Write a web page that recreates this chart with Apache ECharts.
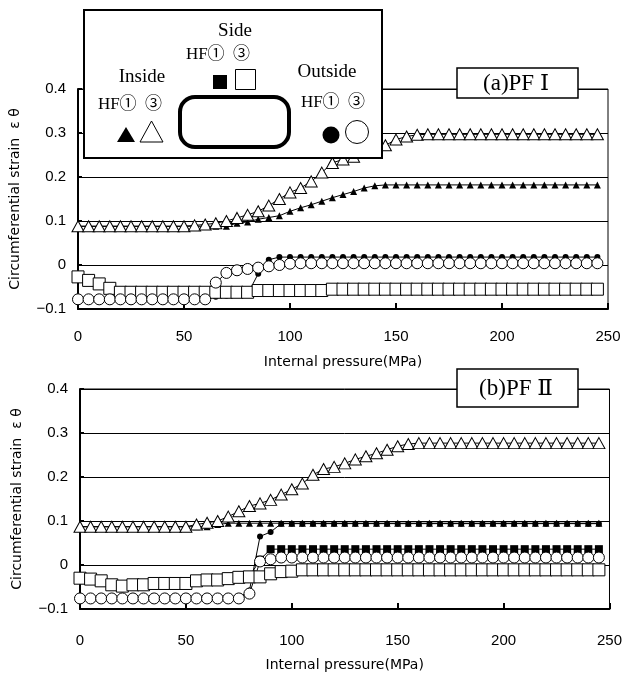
<!DOCTYPE html>
<html>
<head>
<meta charset="utf-8">
<script src="https://cdn.jsdelivr.net/npm/echarts@6/dist/echarts.min.js"></script>
<style>
  html, body { margin: 0; padding: 0; background: #fff; }
  #chart { width: 625px; height: 675px; }
</style>
</head>
<body>
<div id="chart"></div>
<script>
// pressure (MPa)
var pressure = [0,5,10,15,20,25,30,35,40,45,50,55,60,65,70,75,80,85,90,95,100,105,110,115,120,125,130,135,140,145,150,155,160,165,170,175,180,185,190,195,200,205,210,215,220,225,230,235,240,245];

// (a) PF I
var aInside1 = [0.088,0.088,0.088,0.088,0.088,0.088,0.088,0.088,0.088,0.088,0.088,0.088,0.088,0.088,0.088,0.095,0.098,0.104,0.108,0.112,0.122,0.13,0.137,0.145,0.153,0.16,0.167,0.175,0.18,0.182,0.182,0.182,0.182,0.182,0.182,0.182,0.182,0.182,0.182,0.182,0.182,0.182,0.182,0.182,0.182,0.182,0.182,0.182,0.182,0.182];
var aInside3 = [0.088,0.088,0.088,0.088,0.088,0.088,0.088,0.088,0.088,0.088,0.088,0.09,0.092,0.095,0.1,0.107,0.114,0.122,0.135,0.15,0.165,0.175,0.19,0.21,0.232,0.24,0.246,0.255,0.265,0.272,0.285,0.292,0.296,0.297,0.297,0.297,0.297,0.297,0.297,0.297,0.297,0.297,0.297,0.297,0.297,0.297,0.297,0.297,0.297,0.297];
var aSide1 = [-0.027,-0.035,-0.043,-0.053,-0.062,-0.062,-0.062,-0.062,-0.062,-0.062,-0.062,-0.062,-0.062,-0.062,-0.062,-0.062,-0.062,-0.058,-0.058,-0.058,-0.058,-0.058,-0.058,-0.058,-0.055,-0.055,-0.055,-0.055,-0.055,-0.055,-0.055,-0.055,-0.055,-0.055,-0.055,-0.055,-0.055,-0.055,-0.055,-0.055,-0.055,-0.055,-0.055,-0.055,-0.055,-0.055,-0.055,-0.055,-0.055,-0.055];
var aSide3 = [-0.027,-0.035,-0.043,-0.053,-0.062,-0.062,-0.062,-0.062,-0.062,-0.062,-0.062,-0.062,-0.062,-0.062,-0.062,-0.062,-0.062,-0.058,-0.058,-0.058,-0.058,-0.058,-0.058,-0.058,-0.055,-0.055,-0.055,-0.055,-0.055,-0.055,-0.055,-0.055,-0.055,-0.055,-0.055,-0.055,-0.055,-0.055,-0.055,-0.055,-0.055,-0.055,-0.055,-0.055,-0.055,-0.055,-0.055,-0.055,-0.055,-0.055];
var aOutside1 = [-0.078,-0.078,-0.078,-0.078,-0.078,-0.078,-0.078,-0.078,-0.078,-0.078,-0.078,-0.078,-0.078,-0.072,-0.07,-0.068,-0.066,-0.02,0.012,0.018,0.018,0.018,0.018,0.018,0.018,0.018,0.018,0.018,0.018,0.018,0.018,0.018,0.018,0.018,0.018,0.018,0.018,0.018,0.018,0.018,0.018,0.018,0.018,0.018,0.018,0.018,0.018,0.018,0.018,0.018];
var aOutside3 = [-0.078,-0.078,-0.078,-0.078,-0.078,-0.078,-0.078,-0.078,-0.078,-0.078,-0.078,-0.078,-0.078,-0.04,-0.018,-0.012,-0.009,-0.006,-0.003,0.0,0.003,0.004,0.004,0.004,0.004,0.004,0.004,0.004,0.004,0.004,0.004,0.004,0.004,0.004,0.004,0.004,0.004,0.004,0.004,0.004,0.004,0.004,0.004,0.004,0.004,0.004,0.004,0.004,0.004,0.004];

// (b) PF II
var bInside1 = [0.087,0.087,0.087,0.087,0.087,0.087,0.087,0.087,0.087,0.087,0.087,0.087,0.087,0.092,0.095,0.095,0.095,0.095,0.095,0.095,0.095,0.095,0.095,0.095,0.095,0.095,0.095,0.095,0.095,0.095,0.095,0.095,0.095,0.095,0.095,0.095,0.095,0.095,0.095,0.095,0.095,0.095,0.095,0.095,0.095,0.095,0.095,0.095,0.095,0.095];
var bInside3 = [0.087,0.087,0.087,0.087,0.087,0.087,0.087,0.087,0.087,0.087,0.087,0.092,0.096,0.1,0.11,0.122,0.134,0.14,0.148,0.16,0.172,0.185,0.205,0.218,0.223,0.231,0.24,0.247,0.254,0.262,0.27,0.275,0.277,0.277,0.277,0.277,0.277,0.277,0.277,0.277,0.277,0.277,0.277,0.277,0.277,0.277,0.277,0.277,0.277,0.277];
var bSide1 = [-0.03,-0.032,-0.036,-0.045,-0.048,-0.045,-0.045,-0.042,-0.042,-0.042,-0.042,-0.036,-0.034,-0.034,-0.031,-0.028,-0.027,0.012,0.036,0.036,0.036,0.036,0.036,0.036,0.036,0.036,0.036,0.036,0.036,0.036,0.036,0.036,0.036,0.036,0.036,0.036,0.036,0.036,0.036,0.036,0.036,0.036,0.036,0.036,0.036,0.036,0.036,0.036,0.036,0.036];
var bSide3 = [-0.03,-0.032,-0.036,-0.045,-0.048,-0.045,-0.045,-0.042,-0.042,-0.042,-0.042,-0.036,-0.034,-0.034,-0.031,-0.028,-0.027,-0.027,-0.02,-0.015,-0.014,-0.011,-0.011,-0.011,-0.011,-0.011,-0.011,-0.011,-0.011,-0.011,-0.011,-0.011,-0.011,-0.011,-0.011,-0.011,-0.011,-0.011,-0.011,-0.011,-0.011,-0.011,-0.011,-0.011,-0.011,-0.011,-0.011,-0.011,-0.011,-0.011];
var bOutside1 = [-0.075,-0.075,-0.075,-0.075,-0.075,-0.075,-0.075,-0.075,-0.075,-0.075,-0.075,-0.075,-0.075,-0.075,-0.075,-0.075,-0.058,0.065,0.075,0.094,0.094,0.094,0.094,0.094,0.094,0.094,0.094,0.094,0.094,0.094,0.094,0.094,0.094,0.094,0.094,0.094,0.094,0.094,0.094,0.094,0.094,0.094,0.094,0.094,0.094,0.094,0.094,0.094,0.094,0.094];
var bOutside3 = [-0.076,-0.076,-0.076,-0.076,-0.076,-0.076,-0.076,-0.076,-0.076,-0.076,-0.076,-0.076,-0.076,-0.076,-0.076,-0.076,-0.065,0.008,0.013,0.017,0.017,0.017,0.017,0.017,0.017,0.017,0.017,0.017,0.017,0.017,0.017,0.017,0.017,0.017,0.017,0.017,0.017,0.017,0.017,0.017,0.017,0.017,0.017,0.017,0.017,0.017,0.017,0.017,0.017,0.017];

var yName = 'Circumferential strain  ε θ';
var xName = 'Internal pressure(MPa)';
var serif = '"Liberation Serif", "DejaVu Serif", "Noto Sans CJK JP", serif';
var sans = '"Liberation Sans", Arial, sans-serif';
var nameFont = '"DejaVu Sans", sans-serif';

function pairs(ys){
  var out=[];
  for(var i=0;i<pressure.length;i++){ out.push([pressure[i],ys[i]]); }
  return out;
}

// marker styles: filled first, open on top
function mk(name,ys,gi,symbol,size,open,z){
  return {
    name:name, type:'line', xAxisIndex:gi, yAxisIndex:gi,
    data:pairs(ys), symbol:symbol, symbolSize:size, showAllSymbol:true,
    lineStyle:{color:'#000',width:1},
    itemStyle:{color: open?'#fff':'#000', borderColor:'#000', borderWidth: open?1:0, opacity:1},
    z:z, silent:true, animation:false
  };
}

function xAx(gi,gap,nameGap){
  return {
    gridIndex:gi, type:'value', min:0, max:250, interval:50,
    name:xName, nameLocation:'middle', nameGap:nameGap,
    nameTextStyle:{color:'#000',fontSize:14,fontFamily:nameFont},
    axisLine:{onZero:false,lineStyle:{color:'#000',width:2}},
    axisTick:{inside:true,length:6,lineStyle:{color:'#000',width:2}},
    axisLabel:{color:'#000',fontSize:15,fontFamily:sans,margin:gap},
    splitLine:{show:false}
  };
}
function yAx(gi){
  return {
    gridIndex:gi, type:'value', min:-0.1, max:0.4, interval:0.1,
    name:yName, nameLocation:'middle', nameGap:56,
    nameTextStyle:{color:'#000',fontSize:14,fontFamily:nameFont},
    axisLine:{onZero:false,lineStyle:{color:'#000',width:2}},
    axisTick:{inside:true,length:4,lineStyle:{color:'#000',width:2}},
    axisLabel:{color:'#000',fontSize:15,fontFamily:sans,margin:12,
      formatter:function(v){ return (Math.round(v*10)/10).toString().replace('-','−'); }},
    splitLine:{show:true,lineStyle:{color:'#000',width:1}}
  };
}

var chart = echarts.init(document.getElementById('chart'));

var option = {
  backgroundColor:'#fff',
  animation:false,
  grid:[
    {left:78,top:89,width:530,height:220,show:true,borderColor:'#000',borderWidth:1,backgroundColor:'#fff'},
    {left:80,top:389,width:530,height:220,show:true,borderColor:'#000',borderWidth:1,backgroundColor:'#fff'}
  ],
  xAxis:[xAx(0,20,46),xAx(1,24,49)],
  yAxis:[yAx(0),yAx(1)],
  series:[
    mk('Inside HF1',aInside1,0,'triangle',7,false,2),
    mk('Side HF1',aSide1,0,'rect',8,false,2),
    mk('Outside HF1',aOutside1,0,'circle',6,false,2),
    mk('Inside HF3',aInside3,0,'triangle',[12,11],true,3),
    mk('Side HF3',aSide3,0,'rect',12,true,3),
    mk('Outside HF3',aOutside3,0,'circle',11,true,3),
    mk('Inside HF1',bInside1,1,'triangle',7,false,2),
    mk('Side HF1',bSide1,1,'rect',8,false,2),
    mk('Outside HF1',bOutside1,1,'circle',6,false,2),
    mk('Inside HF3',bInside3,1,'triangle',[12,11],true,3),
    mk('Side HF3',bSide3,1,'rect',12,true,3),
    mk('Outside HF3',bOutside3,1,'circle',11,true,3)
  ],
  graphic:[
    // panel labels
    {type:'rect',shape:{x:457,y:68,width:121,height:30},style:{fill:'#fff',stroke:'#000',lineWidth:1.5},z:10},
    {type:'text',x:516,y:84,style:{text:'(a)PF Ⅰ',font:'23px '+serif,fill:'#000',textAlign:'center',textVerticalAlign:'middle'},z:11},
    {type:'rect',shape:{x:457,y:369,width:121,height:38},style:{fill:'#fff',stroke:'#000',lineWidth:1.5},z:10},
    {type:'text',x:516,y:389,style:{text:'(b)PF Ⅱ',font:'23px '+serif,fill:'#000',textAlign:'center',textVerticalAlign:'middle'},z:11},
    // legend box
    {type:'rect',shape:{x:84,y:10,width:298,height:148},style:{fill:'#fff',stroke:'#000',lineWidth:2},z:10},
    {type:'text',x:235,y:31,style:{text:'Side',font:'19px '+serif,fill:'#000',textAlign:'center',textVerticalAlign:'middle'},z:11},
    {type:'text',x:218,y:55,style:{text:'HF①  ③',font:'17px '+serif,fill:'#000',textAlign:'center',textVerticalAlign:'middle'},z:11},
    {type:'rect',shape:{x:213,y:75,width:14,height:14},style:{fill:'#000'},z:11},
    {type:'rect',shape:{x:235.5,y:69.5,width:20,height:20},style:{fill:'#fff',stroke:'#000',lineWidth:1},z:11},
    {type:'text',x:142,y:77,style:{text:'Inside',font:'19px '+serif,fill:'#000',textAlign:'center',textVerticalAlign:'middle'},z:11},
    {type:'text',x:130,y:105,style:{text:'HF①  ③',font:'17px '+serif,fill:'#000',textAlign:'center',textVerticalAlign:'middle'},z:11},
    {type:'polygon',shape:{points:[[117,142],[135,142],[126,127]]},style:{fill:'#000'},z:11},
    {type:'polygon',shape:{points:[[140,142],[163,142],[151.5,121]]},style:{fill:'#fff',stroke:'#000',lineWidth:1},z:11},
    {type:'rect',shape:{x:180,y:97,width:109,height:50,r:15},style:{fill:'#fff',stroke:'#000',lineWidth:4},z:11},
    {type:'text',x:327,y:72,style:{text:'Outside',font:'19px '+serif,fill:'#000',textAlign:'center',textVerticalAlign:'middle'},z:11},
    {type:'text',x:333,y:103,style:{text:'HF①  ③',font:'17px '+serif,fill:'#000',textAlign:'center',textVerticalAlign:'middle'},z:11},
    {type:'circle',shape:{cx:331,cy:135,r:8.5},style:{fill:'#000'},z:11},
    {type:'circle',shape:{cx:357,cy:132,r:11.5},style:{fill:'#fff',stroke:'#000',lineWidth:1},z:11}
  ]
};
chart.setOption(option);
</script>
</body>
</html>
